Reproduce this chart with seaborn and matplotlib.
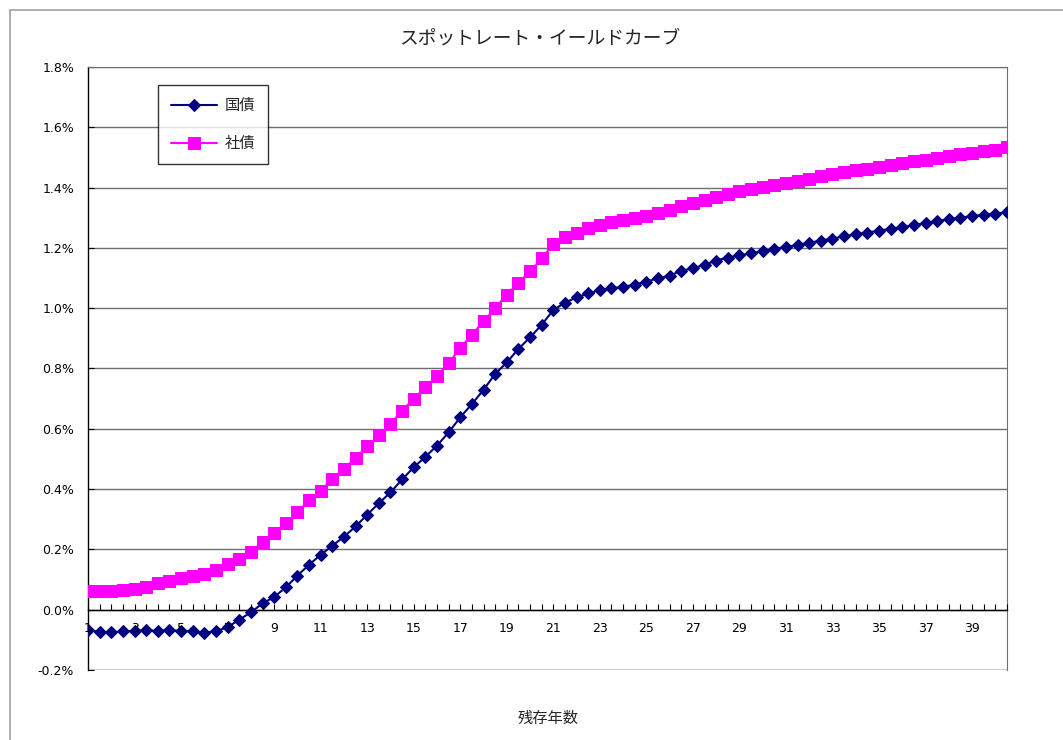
import numpy as np
import pandas as pd
import matplotlib
matplotlib.use("Agg")
import matplotlib.pyplot as plt
from matplotlib.ticker import FuncFormatter, MultipleLocator
from matplotlib.patches import Rectangle
import seaborn as sns

# 残存年数 (0.5年刻み)
years = [1 + 0.5 * i for i in range(80)]

# 国債 スポットレート (%)
jgb = [-0.068, -0.073, -0.075, -0.072, -0.070, -0.069, -0.070, -0.069, -0.070, -0.072,
       -0.076, -0.072, -0.058, -0.033, -0.009, 0.021, 0.042, 0.074, 0.113, 0.149,
       0.182, 0.212, 0.242, 0.276, 0.315, 0.353, 0.389, 0.432, 0.472, 0.507,
       0.544, 0.588, 0.638, 0.682, 0.729, 0.782, 0.820, 0.865, 0.903, 0.945,
       0.994, 1.018, 1.036, 1.049, 1.060, 1.066, 1.071, 1.078, 1.088, 1.099,
       1.108, 1.124, 1.132, 1.144, 1.158, 1.168, 1.175, 1.182, 1.189, 1.196,
       1.203, 1.210, 1.217, 1.224, 1.231, 1.238, 1.245, 1.251, 1.257, 1.263,
       1.269, 1.275, 1.283, 1.289, 1.295, 1.300, 1.305, 1.310, 1.314, 1.318]

# 社債 スポットレート (%)
corp = [0.062, 0.062, 0.062, 0.064, 0.068, 0.076, 0.088, 0.096, 0.104, 0.111,
        0.118, 0.132, 0.150, 0.167, 0.190, 0.226, 0.256, 0.286, 0.323, 0.363,
        0.395, 0.433, 0.467, 0.503, 0.542, 0.578, 0.616, 0.660, 0.699, 0.738,
        0.776, 0.817, 0.868, 0.912, 0.956, 1.000, 1.045, 1.084, 1.122, 1.165,
        1.213, 1.237, 1.251, 1.265, 1.277, 1.285, 1.291, 1.298, 1.306, 1.315,
        1.325, 1.338, 1.350, 1.360, 1.370, 1.380, 1.388, 1.395, 1.402, 1.409,
        1.416, 1.423, 1.430, 1.437, 1.444, 1.451, 1.457, 1.463, 1.469, 1.475,
        1.481, 1.487, 1.493, 1.499, 1.505, 1.510, 1.515, 1.520, 1.526, 1.533]

x_labels = list(range(1, 40, 2))

df = pd.DataFrame({
    "残存年数": years * 2,
    "利回り": jgb + corp,
    "銘柄": ["国債"] * len(years) + ["社債"] * len(years),
})

sns.set_style("white")
plt.rcParams["font.family"] = ["DejaVu Sans", "Noto Sans CJK JP"]
plt.rcParams["axes.unicode_minus"] = False

fig = plt.figure(figsize=(10.63, 7.4), dpi=100)
ax = fig.add_axes([0.0828, 0.0946, 0.8645, 0.8149])

# chart area border
fig.patches.append(Rectangle((10 / 1063, -0.1), 1.2, 1.1 - 10 / 740,
                             transform=fig.transFigure, fill=False,
                             edgecolor="#a0a0a0", lw=1.2, zorder=0))

sns.lineplot(data=df[df["銘柄"] == "国債"], x="残存年数", y="利回り", ax=ax,
             color="#000080", marker="D", markersize=6.5, markeredgecolor="#000080",
             lw=1.5, label="国債", zorder=4)
sns.lineplot(data=df[df["銘柄"] == "社債"], x="残存年数", y="利回り", ax=ax,
             color="#ff00ff", marker="s", markersize=8, markeredgecolor="#ff00ff",
             lw=1.5, label="社債", zorder=3)

ax.set_xlim(1, 40.5)
ax.set_ylim(-0.2, 1.8)
ax.yaxis.set_major_locator(MultipleLocator(0.2))
ax.yaxis.set_major_formatter(FuncFormatter(lambda v, p: f"{v:.1f}%"))
ax.grid(axis="y", color="#6e6e6e", lw=1, zorder=1)
ax.grid(axis="x", visible=False)

ax.set_xticks(x_labels)
ax.set_xticklabels([str(v) for v in x_labels])
ax.xaxis.set_minor_locator(MultipleLocator(0.5))
ax.xaxis.set_zorder(5)
ax.spines["bottom"].set_position(("data", 0))
for s in ["left", "bottom"]:
    ax.spines[s].set_color("black")
    ax.spines[s].set_linewidth(1)
ax.spines["right"].set_color("#6e6e6e")
ax.spines["top"].set_color("#6e6e6e")
ax.axhline(-0.2, color="#6e6e6e", lw=1, zorder=1)

ax.tick_params(axis="x", which="both", direction="in", length=4, width=0.8,
               colors="black", labelsize=9, pad=9, bottom=True)
ax.tick_params(axis="y", direction="in", length=4, width=0.8,
               colors="black", labelsize=9, pad=10, left=True)

ax.set_xlabel("")
ax.set_ylabel("")
fig.text(0.516, 0.029, "残存年数", ha="center", va="center", fontsize=11)
fig.text(0.508, 0.949, "スポットレート・イールドカーブ", ha="center", va="center",
         fontsize=13.5)

leg = ax.legend(loc="upper left", bbox_to_anchor=(0.076, 0.97), borderaxespad=0,
                fontsize=11, frameon=True, fancybox=False, edgecolor="black",
                handlelength=3.0, handletextpad=0.5, labelspacing=1.5,
                borderpad=0.85)
leg.get_frame().set_linewidth(1)
leg.set_zorder(6)

fig.savefig("out.png", dpi=100, facecolor="white")
